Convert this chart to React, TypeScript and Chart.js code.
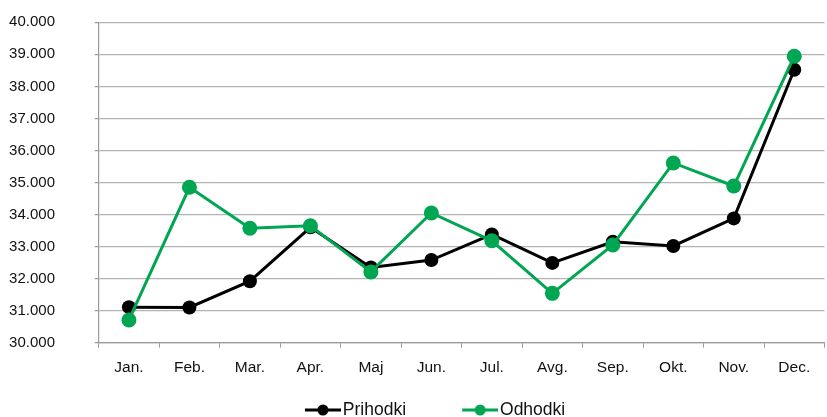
import React, { useEffect, useRef } from "react";
import { Chart, registerables } from "chart.js";

Chart.register(...registerables);

const months = ["Jan.", "Feb.", "Mar.", "Apr.", "Maj", "Jun.", "Jul.", "Avg.", "Sep.", "Okt.", "Nov.", "Dec."];
const prihodki = [31110, 31100, 31920, 33600, 32350, 32580, 33380, 32490, 33150, 33020, 33880, 38520];
const odhodki = [30710, 34850, 33570, 33650, 32210, 34050, 33180, 31540, 33050, 35610, 34890, 38940];
const seriesNames = ["Prihodki", "Odhodki"];
const yMin = 30000;
const yMax = 40000;
const yStep = 1000;

const BLACK = "#000000";
const GREEN = "#00a651";
const FONT = "'Liberation Sans', Arial, sans-serif";
const Y_TICK_LEN = 43.7;
const Y_TICK_MARK = 4;

function legendSymbol(color: string): HTMLCanvasElement {
  const c = document.createElement("canvas");
  c.width = 89;
  c.height = 14;
  const ctx = c.getContext("2d")!;
  ctx.strokeStyle = color;
  ctx.lineWidth = 3;
  ctx.beginPath();
  ctx.moveTo(53, 7);
  ctx.lineTo(89, 7);
  ctx.stroke();
  ctx.fillStyle = color;
  ctx.beginPath();
  ctx.arc(71, 7, 5.5, 0, Math.PI * 2);
  ctx.fill();
  return c;
}

function fmt(v: number): string {
  const s = String(Math.round(v));
  return s.replace(/\B(?=(\d{3})+(?!\d))/g, ".");
}

export default function App() {
  const ref = useRef<HTMLCanvasElement | null>(null);
  useEffect(() => {
    if (!ref.current) return;
    const symbols = [legendSymbol(BLACK), legendSymbol(GREEN)];
    const chart = new Chart(ref.current, {
      type: "line",
      data: {
        labels: months,
        datasets: [
          {
            label: seriesNames[0],
            data: prihodki,
            borderColor: BLACK,
            backgroundColor: BLACK,
            borderWidth: 3,
            pointRadius: 7,
            pointHoverRadius: 7,
            pointBorderWidth: 0,
            tension: 0,
            order: 1,
          },
          {
            label: seriesNames[1],
            data: odhodki,
            borderColor: GREEN,
            backgroundColor: GREEN,
            borderWidth: 3,
            pointRadius: 7.5,
            pointHoverRadius: 7.5,
            pointBorderWidth: 0,
            tension: 0,
            order: 0,
          },
        ],
      },
      options: {
        animation: false,
        responsive: false,
        maintainAspectRatio: false,
        layout: { padding: { top: 22.3, left: 0, right: 0, bottom: 1.25 } },
        plugins: {
          tooltip: { enabled: false },
          legend: {
            position: "bottom",
            labels: {
              usePointStyle: true,
              pointStyleWidth: 75.25,
              padding: 10,
              color: "#111",
              font: { family: FONT, size: 17.5 },
              sort: (a: any, b: any) => a.datasetIndex - b.datasetIndex,
              generateLabels: (ch: any) => {
                const items = Chart.defaults.plugins.legend.labels.generateLabels(ch);
                return items.map((it: any) => ({ ...it, pointStyle: symbols[it.datasetIndex] }));
              },
            },
          },
        },
        scales: {
          x: {
            offset: true,
            grid: {
              display: true,
              drawOnChartArea: false,
              drawTicks: true,
              tickLength: 5,
              offset: true,
              color: "#9a9a9a",
            },
            border: { display: true, color: "#9a9a9a", width: 1.2 },
            ticks: {
              color: "#111",
              font: { family: FONT, size: 15.5 },
              padding: 10.5,
              maxRotation: 0,
              autoSkip: false,
            },
            afterFit: (s: any) => {
              s.height = 48.55;
            },
          },
          y: {
            min: yMin,
            max: yMax,
            grid: {
              color: "#b4b4b4",
              lineWidth: 1.2,
              drawTicks: true,
              tickLength: Y_TICK_LEN,
              tickColor: "#9a9a9a",
              tickBorderDash: [0, Y_TICK_LEN - Y_TICK_MARK, Y_TICK_MARK, 0],
            },
            border: { display: true, color: "#9a9a9a", width: 1.2 },
            ticks: {
              stepSize: yStep,
              color: "#111",
              font: { family: FONT, size: 15 },
              padding: 0,
              callback: (v: any) => fmt(Number(v)),
            },
            afterFit: (s: any) => {
              s.width = 106.7;
            },
          },
        },
      },
    });
    return () => chart.destroy();
  }, []);
  return (
    <div style={{ position: "fixed", left: 0, top: 0, width: 827, height: 417, overflow: "hidden", background: "#fff" }}>
      <div style={{ position: "absolute", left: -8, top: 0, width: 840, height: 430 }}>
        <canvas ref={ref} width={840} height={430} style={{ width: 840, height: 430, display: "block" }} />
      </div>
    </div>
  );
}
